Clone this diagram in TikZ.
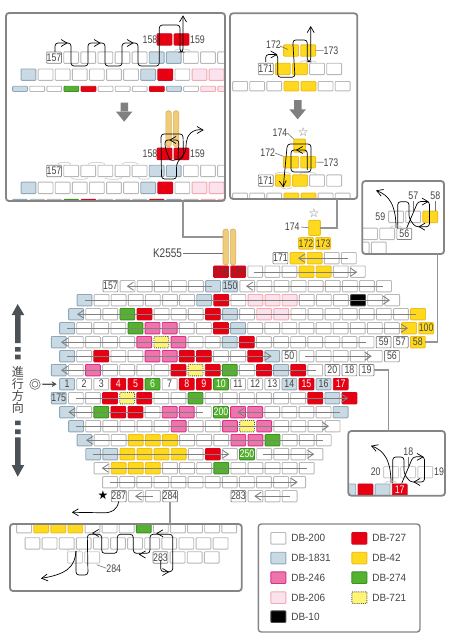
\documentclass[tikz,border=0pt]{standalone}
\usepackage{fontspec}
\setmainfont{Liberation Sans}
\newfontfamily\nar[FakeStretch=0.8]{Liberation Sans}
\newfontfamily\leg[FakeStretch=0.95]{Liberation Sans}
\newfontfamily\sym{DejaVu Sans}
\newfontfamily\cjk{Noto Sans CJK JP}
\usetikzlibrary{arrows.meta,calc}
\definecolor{cB}{HTML}{C9DAE4}\definecolor{cBd}{HTML}{8FA8B8}
\definecolor{cR}{HTML}{E60012}\definecolor{cRd}{HTML}{D00A1E}
\definecolor{cY}{HTML}{FFD91E}\definecolor{cYd}{HTML}{EDBF20}
\definecolor{cG}{HTML}{55B22F}\definecolor{cGd}{HTML}{3E8E2A}
\definecolor{cP}{HTML}{EE75AC}\definecolor{cPd}{HTML}{D8308A}
\definecolor{cL}{HTML}{FBE3EE}\definecolor{cLd}{HTML}{F4A8B0}
\definecolor{cD}{HTML}{FFF475}
\definecolor{cN}{HTML}{F0CB78}\definecolor{cNd}{HTML}{D8B060}
\definecolor{cT}{HTML}{444444}
\definecolor{cA}{HTML}{4A5257}
\tikzset{
 bead/.style={rectangle,minimum width=14.8pt,minimum height=11.4pt,inner sep=0,outer sep=0,line width=.9pt,rounded corners=.8pt},
 wb/.style={draw=black!28,fill=white},
 pw/.style={draw=black!20,fill=white},
 lb/.style={draw=black!50,fill=white,line width=.7pt},
 bl/.style={draw=cBd,fill=cB},
 rd/.style={draw=cRd,fill=cR},
 yl/.style={draw=cYd,fill=cY},
 gn/.style={draw=cGd,fill=cG},
 pk/.style={draw=cPd,fill=cP},
 lp/.style={draw=cLd,fill=cL},
 bk/.style={draw=black!70,fill=black},
 yd/.style={draw=black!65,fill=cD,densely dotted},
 halfb/.style={minimum height=5.2pt},
 thinb/.style={minimum height=9.4pt},
 tx/.style={inner sep=0,outer sep=0,font=\nar\fontsize{11}{11}\selectfont,text=cT},
 rowth/.style={draw=black!50,line width=.85pt,-{Straight Barb[length=6pt,width=8pt,line width=.85pt]}},
 thr/.style={draw=black,line width=.7pt,rounded corners=3pt},
 pale/.style={draw=black!22,line width=.6pt},
 lead/.style={draw=black!55,line width=.6pt},
 panel/.style={rectangle,inner sep=0,outer sep=0,fill=white,rounded corners=3pt},
 pborder/.style={draw=black!48,line width=1.8pt,rounded corners=3pt},
 link/.style={draw=black!42,line width=1.6pt},
 needle/.style={rectangle,inner sep=0,outer sep=0,draw=cNd,fill=cN,line width=.6pt,rounded corners=2.5pt,minimum width=5.4pt},
 blockar/.style={fill=black!50},
}
\newcommand{\beadrow}[5][]{\foreach \bt [count=\bi from 0] in {#5}{\node[bead,\bt,#1] (#2-\bi) at ({#3+\bi*17.1+7.75},{#4+6.15}) {};}}
\newcommand{\bl}[3][cT]{\node[tx,text=#1] (#2-t) at (#2) {#3};}
\newcommand{\rl}[3]{\draw[rowth] (#1,#3+6.2) -- (#2,#3+6.2);}
\newcommand{\chev}[3]{\draw[draw=black,line width=.7pt,shift={(#1,#2)},rotate=#3] (-6,-3.5) -- (0,0) -- (-6,3.5);}
\newcommand{\parc}[4]{\draw[pale] (#1,#3) .. controls (#1,#3-#4) and (#2,#3-#4) .. (#2,#3);}
\newcommand{\crossth}{%
 \draw[thr] (396,228) .. controls (396,205) and (389,195) .. (376.7,190.7);
 \chev{376.7}{190.7}{160}
 \draw[thr] (397.7,228) -- (397.7,201.7) -- (409,201.7) -- (409,218) -- (415,226.7) -- (429.5,226.7) -- (429.5,201.5) -- (418,201.5) -- (406.7,228);
 \chev{428}{201.6}{0}
 \chev{419}{226.7}{180}
 \parc{390}{402}{228}{3}
}
\begin{document}
\begin{tikzpicture}[x=1pt,y=-1pt]
\useasboundingbox (0,0) rectangle (450,642);
% ---------- main chart
\node[needle,minimum height=36pt] (nL) at (225.7,247) {};
\node[needle,minimum height=36pt] (nR) at (233,247) {};
\node[bead,yl,minimum width=11.6pt,minimum height=15pt] (m174) at (314.5,227.8) {};
\beadrow{r238}{298.3}{237.2}{yl,yl}
\beadrow{r252}{272.7}{252}{lb,yl,yl,wb,wb}
\beadrow{r266}{213.3}{265.5}{rd,rd,wb,wb,wb,yl,yl,wb,wb}
\beadrow{r280}{102.7}{280}{lb,wb,wb,wb,wb,wb,bl,bl,wb,wb,wb,wb,wb,wb,wb,wb,wb}
\beadrow{r294}{76.7}{294}{bl,wb,wb,wb,wb,wb,wb,bl,rd,wb,lp,lp,lp,wb,wb,wb,bk,wb,wb}
\beadrow{r308}{68.3}{308}{bl,wb,wb,gn,rd,wb,wb,wb,rd,bl,wb,lp,lp,wb,wb,wb,wb,wb,wb,wb,yl}
\beadrow{r322}{59.3}{322}{bl,wb,wb,wb,gn,pk,pk,wb,wb,rd,bl,wb,wb,wb,wb,wb,wb,wb,wb,wb,yl,yl}
\beadrow{r336}{51}{336}{bl,wb,wb,wb,wb,pk,yd,pk,wb,wb,bl,rd,wb,wb,wb,wb,wb,wb,wb,lb,lb,yl}
\beadrow{r350}{59.3}{350}{bl,wb,rd,wb,wb,pk,pk,rd,rd,wb,wb,rd,bl,lb,wb,wb,wb,wb,wb,lb}
\beadrow{r364}{51}{364}{bl,wb,pk,wb,wb,wb,wb,rd,yd,rd,gn,wb,rd,bl,rd,wb,lb,lb,lb}
\beadrow{r378}{59.3}{378}{bl,wb,wb,rd,rd,gn,wb,rd,rd,gn,wb,wb,wb,bl,rd,bl,rd}
\beadrow{r392}{51}{392}{bl,wb,wb,rd,yd,rd,wb,wb,gn,wb,wb,wb,wb,wb,wb,rd,bl,rd}
\beadrow{r406}{59.3}{406}{bl,wb,gn,rd,rd,wb,pk,pk,wb,gn,pk,pk,wb,wb,wb,wb,bl}
\beadrow{r420}{68.3}{420}{bl,wb,wb,wb,wb,wb,pk,wb,wb,pk,yd,pk,wb,wb,wb,wb}
\beadrow{r434}{76.7}{434}{bl,wb,wb,yl,yl,yl,wb,wb,wb,pk,pk,gn,wb,wb,wb}
\beadrow{r448}{85.4}{448}{bl,bl,yl,yl,yl,yl,wb,rd,wb,gn,wb,wb,wb,wb}
\beadrow{r462}{93.8}{462}{wb,yl,yl,yl,wb,wb,wb,gn,wb,wb,wb,wb,wb}
\beadrow{r476}{102.3}{476}{wb,wb,wb,wb,wb,wb,wb,wb,wb,wb,wb,wb}
\beadrow{r490}{111}{490}{lb,wb,wb,lb}
\beadrow{s490}{230.6}{490}{lb,wb,wb,wb}
% row threads
\rl{348.3}{298}{252}
\rl{254.3}{357.3}{266}
\rl{212}{126.7}{280}\rl{382.7}{246}{280}
\rl{84.7}{390}{294}
\rl{416}{77}{308}
\rl{66.7}{408}{322}
\rl{365.7}{61}{336}
\rl{66.7}{271.7}{350}\rl{305}{371.7}{350}
\rl{315.7}{61}{364}
\rl{76}{348.3}{392}
\rl{203}{68.3}{406}\rl{340}{237.3}{406}
\rl{76}{329}{420}
\rl{323}{86}{434}
\rl{92.7}{229.3}{448}\rl{263.3}{314.3}{448}
\rl{306.7}{101.7}{462}
\rl{110}{297.7}{476}
\rl{153}{135}{490}\rl{290}{254.3}{490}
% bead texts
\bl{r238-0}{172}\bl{r238-1}{173}
\bl{r252-0}{171}
\bl{r266-0}{158}\bl{r266-1}{159}
\bl{r280-0}{157}\bl{r280-7}{150}
\bl{r322-21}{100}
\bl{r336-19}{59}\bl{r336-20}{57}\bl{r336-21}{58}
\bl{r350-13}{50}\bl{r350-19}{56}
\bl{r364-16}{20}\bl{r364-17}{18}\bl{r364-18}{19}
\bl{r378-0}{1}\bl{r378-1}{2}\bl{r378-2}{3}
\bl[white]{r378-3}{4}\bl[white]{r378-4}{5}\bl[white]{r378-5}{6}
\bl{r378-6}{7}\bl[white]{r378-7}{8}\bl[white]{r378-8}{9}\bl[white]{r378-9}{10}
\bl{r378-10}{11}\bl{r378-11}{12}\bl{r378-12}{13}\bl{r378-13}{14}
\bl[white]{r378-14}{15}\bl{r378-15}{16}\bl[white]{r378-16}{17}
\bl{r392-0}{175}
\bl[white]{r406-9}{200}
\bl[white]{r448-9}{250}
\bl{r490-0}{287}\bl{r490-3}{284}\bl{s490-0}{283}
% labels around the chart
\node[tx] (lab174) at (292.3,227) {174};
\draw[lead] (lab174.east) ++(1.5,0) -- (m174.west);
\node[tx,text=black!55,font=\sym\fontsize{12}{12}\selectfont] (st1) at (314,213) {☆};
\node[tx,font=\nar\fontsize{12.5}{12.5}\selectfont] (k2555) at (167.5,253.5) {K2555};
\draw[lead] (k2555.east) ++(1.5,0) -- (nL.west |- k2555.east);
\node[tx,text=black,font=\sym\fontsize{12}{12}\selectfont] (st2) at (103,495.5) {★};
\draw[thr] (r490-0.south) ++(0,-.5) .. controls (117,510) and (112,513) .. (100,512.7) -- (72.5,512.3);
\chev{72.5}{512.3}{180}
% direction arrows
\fill[cA] (17.7,304) -- (24.3,315) -- (20.7,315) -- (20.7,343) -- (15,343) -- (15,315) -- (11.7,315) -- cycle;
\fill[cA] (15,347) rectangle (20.7,351.7) (15,354.7) rectangle (20.7,359.3);
\fill[cA] (15,420.7) rectangle (20.7,425) (15,429.3) rectangle (20.7,434);
\fill[cA] (15,437.3) rectangle (20.7,465) (24.3,465) -- (17.7,476.7) -- (11.7,465) -- cycle;
\node[inner sep=0,outer sep=0,align=center,text=cT,font=\cjk\fontsize{12}{12}\selectfont] (jp) at (18,390) {進\\行\\方\\向};
\node[circle,draw=black!60,line width=.6pt,minimum size=10.5pt,inner sep=0,outer sep=0] (tgt) at (35,384.2) {};
\node[circle,draw=black!60,line width=.6pt,minimum size=6pt,inner sep=0,outer sep=0] (tgt2) at (tgt) {};
\draw[draw=cA,line width=1.3pt,shorten <=2pt,shorten >=3pt,-{Stealth[length=5pt,width=6pt]}] (tgt.east) -- (r378-0.west);
% ---------- panel A
\node[panel,minimum width=219pt,minimum height=188pt] (pA) at (115.5,107) {};
\begin{scope}
\clip[rounded corners=3pt] (pA.south west) rectangle (pA.north east);
\beadrow{a1}{156.7}{33.3}{rd,rd}
\beadrow{a2}{46.3}{51.5}{lb,wb,wb,wb,wb,wb,bl,bl,wb,wb,wb}
\beadrow{a3}{20.7}{68.5}{bl,wb,wb,wb,wb,wb,wb,bl,rd,wb,lp,lp}
\beadrow[halfb]{a4}{12.3}{82.7}{bl,wb,wb,gn,rd,wb,wb,wb,rd,bl,wb,lp,lp}
\node[needle,minimum height=36pt] (a5) at (168.6,128.7) {};
\node[needle,minimum height=36pt] (a6) at (176.1,128.7) {};
\beadrow{b1}{156.7}{147.7}{rd,rd}
\beadrow{b2}{46.3}{164.8}{lb,wb,wb,wb,wb,wb,bl,bl,wb,wb,wb}
\beadrow{b3}{20.7}{181.7}{bl,wb,wb,wb,wb,wb,wb,bl,rd,wb,lp,lp}
\beadrow[halfb]{b4}{12.3}{195.8}{bl,wb,wb,gn,rd,wb,wb,wb,rd,bl,wb,lp,lp}
\end{scope}
\bl{a2-0}{157}\bl{b2-0}{157}
\node[tx] (a7) at (150,39.6) {158};
\node[tx] (a8) at (197.5,39.6) {159};
\node[tx] (b7) at (150,154) {158};
\node[tx] (b8) at (197.5,154) {159};
\parc{174.5}{190}{51.3}{3}
\parc{58}{71}{164.5}{3}\parc{88}{105}{164.5}{3}\parc{122}{138}{164.5}{3}
\parc{71}{88}{177.5}{-2.5}\parc{105}{122}{177.5}{-2.5}\parc{138}{150}{177.5}{-2.5}
\draw[thr] (55,52) -- (55,43) -- (71,43) -- (71,66) -- (88,66) -- (88,43) -- (105,43) -- (105,66) -- (122,66) -- (122,43) -- (138,43) -- (138,66) -- (159.3,66) -- (159.3,25) -- (180,25) -- (180,52) -- (183,52) -- (183,16.5);
\chev{67}{43}{0}\chev{100}{43}{0}\chev{133}{43}{0}\chev{183}{16}{90}
\draw[thr] (203,130) .. controls (192,128) and (187,136) .. (186,145) .. controls (186,155) and (177,160) .. (176.5,168) -- (176.5,179) -- (161.5,179) -- (161,134) -- (183,134) -- (183.5,158) -- (170,161) -- (165,147) -- (165,140) -- (179,140) -- (178,158);
\chev{203}{130}{0}\chev{170}{140}{180}
\fill[blockar] (120.7,102.7) rectangle (128,112) (116,111.7) -- (132.3,111.7) -- (124.2,121.7) -- cycle;
% ---------- panel B
\node[panel,minimum width=127.3pt,minimum height=185.7pt] (pB) at (293.65,106.15) {};
\begin{scope}
\clip[rounded corners=3pt] (pB.south west) rectangle (pB.north east);
\beadrow{c1}{283.3}{44.4}{yl,yl}
\beadrow{c2}{258}{62.8}{lb,yl,yl,wb,wb}
\beadrow[thinb]{c3}{232.3}{80}{wb,wb,wb,yl,yl,wb,wb}
\node[bead,yl,minimum width=11.6pt,minimum height=13pt] (d0) at (299.7,145.6) {};
\beadrow{d1}{283.3}{156}{yl,yl}
\beadrow{d2}{258}{174.4}{lb,yl,yl,wb,wb}
\beadrow[thinb]{d3}{232.3}{191.7}{wb,wb,wb,yl,yl,wb,wb}
\end{scope}
\bl{c2-0}{171}\bl{d2-0}{171}
\node[tx] (c4) at (273.5,45) {172};
\draw[lead] (280,46) -- (288,49.5);
\node[tx] (c5) at (331,50.7) {173};
\draw[lead] (c1-1.east) -- (c5.west);
\node[tx] (d4) at (280,132.7) {174};
\draw[lead] (287.3,133) -- (d0.north west);
\node[tx,text=black!55,font=\sym\fontsize{12}{12}\selectfont] (d5) at (303.3,132) {☆};
\node[tx] (d6) at (267.7,152.7) {172};
\draw[lead] (275,153) -- (d1-0.north west);
\node[tx] (d7) at (331,162.3) {173};
\draw[lead] (d1-1.east) -- (d7.west);
\parc{300}{316}{62.5}{2.5}\parc{300}{316}{174.2}{2.5}\parc{275}{291}{174.2}{2.5}\parc{281}{292}{187}{-2.5}
\draw[thr] (265.7,62) -- (265.7,54.5) -- (277.7,54.5) -- (277.7,77.3) -- (295,77.3) -- (292.7,40) -- (307.3,40) -- (307.3,61.7) -- (310.7,61.7) -- (310.7,27);
\chev{276.7}{54.5}{0}\chev{310.7}{26.7}{90}
\draw[thr] (283.3,186.7) -- (287.3,144) -- (311,144) -- (311,172) -- (291,172) -- (291,150) -- (307.3,150) -- (307.3,170);
\chev{283.3}{186.7}{-85}\chev{296.7}{150}{180}
\fill[blockar] (294,100) rectangle (301.7,109.5) (289.3,109.3) -- (306,109.3) -- (297.7,119.3) -- cycle;
% ---------- panel C
\node[panel,minimum width=81.7pt,minimum height=73pt] (pC) at (403.15,217.5) {};
\begin{scope}
\clip[rounded corners=3pt] (pC.south west) rectangle (pC.north east);
\beadrow{e1}{388.3}{210.7}{wb,wb,yl}
\beadrow{e2}{362.3}{227.7}{wb,wb,lb}
\beadrow{e3}{353.9}{241.7}{wb,wb}
\end{scope}
\bl{e2-2}{56}
\node[tx] (e4) at (380.3,217) {59};
\node[tx] (e5) at (413.3,196) {57};
\node[tx] (e6) at (435.3,196) {58};
\draw[lead] (e5.south) ++(0,1) -- (e5.south |- e1-1.north);
\draw[lead] (e6.south) ++(0,1) -- (e6.south |- e1-2.north);
\crossth
% ---------- panel D
\node[panel,minimum width=96.7pt,minimum height=64.7pt] (pD) at (396.65,463.35) {};
\begin{scope}
\clip[rounded corners=3pt] (pD.south west) rectangle (pD.north east);
\beadrow{f1}{383.3}{466}{pw,pw,pw}
\beadrow{f2}{340.6}{483.5}{bl,rd,bl,rd}
\end{scope}
\bl[white]{f2-3}{17}
\node[tx] (f4) at (375.7,472) {20};
\node[tx] (f5) at (408.3,451.7) {18};
\node[tx] (f6) at (439,472) {19};
\draw[lead] (f5.south) ++(0,1) -- (f5.south |- f1-1.north);
\begin{scope}[shift={(-5,255.3)}]
\crossth
\end{scope}
% ---------- panel E
\node[panel,minimum width=231.7pt,minimum height=67pt] (pE) at (125.85,557.5) {};
\begin{scope}
\clip[rounded corners=3pt] (pE.south west) rectangle (pE.north east);
\beadrow{g1}{16.3}{521}{wb,yl,yl,yl,wb,wb,wb,gn,wb,wb,wb,wb,wb}
\beadrow{g2}{24.7}{537.3}{wb,wb,wb,wb,wb,wb,wb,wb,wb,wb,wb,wb}
\beadrow{g3}{67.3}{551.3}{pw,pw}
\beadrow{g4}{152.7}{551.3}{lb,wb,wb,wb}
\end{scope}
\bl{g4-0}{283}
\node[tx] (g5) at (113.7,568.3) {284};
\draw[lead] (96.7,564.7) -- (g5.west);
\parc{67}{80}{551.2}{3}
\draw[thr] (76,551) .. controls (75,566) and (68,574) .. (41.7,578.3);
\chev{41.7}{578.3}{188}
\draw[thr] (76,551) -- (76,575) -- (88,575) -- (87.3,534.3) -- (101.7,534.3) -- (101.7,553.3) -- (117.3,553.3) -- (117.3,534.3) -- (133.3,534.3) -- (133.3,553.3) -- (150,553.3) -- (150,534.3) -- (172.7,534.3) -- (172.7,571.7) -- (160.7,571.7) -- (160.7,560);
\chev{92.7}{533}{180}\chev{139.5}{554.5}{180}\chev{157}{533.3}{180}\chev{168.5}{572}{0}
% ---------- panel borders and links
\foreach \pn in {pA,pB,pC,pD,pE}{\draw[pborder] (\pn.south west) rectangle (\pn.north east);}
\draw[link] ([xshift=176.7pt]pA.south west) |- ([yshift=10pt]nL.west);
\draw[link] ([xshift=106.7pt]pB.south west) |- (m174.east);
\draw[link] ([xshift=75pt]pC.south west) |- (r336-21.east);
\draw[link] ([xshift=40pt]pD.north west) |- (r364-18.east);
\draw[link] (r490-3.south) -- (r490-3.south |- pE.north);
% ---------- legend
\node[panel,draw=black!48,line width=1.4pt,minimum width=161.7pt,minimum height=108pt] (lg) at (339.15,578) {};
\newcommand{\lgitem}[5]{%
 \node[bead,#3,minimum width=15pt,minimum height=11.6pt] (#1) at (#4+7.7,#5+6) {};
 \node[anchor=west,inner sep=0,outer sep=0,text=cT,font=\leg\fontsize{10.5}{10.5}\selectfont] (#1t) at (#4+20.6,#5+6) {#2};}
\lgitem{k1}{DB-200}{wb}{270.7}{532.3}
\lgitem{k2}{DB-1831}{bl}{270.7}{552}
\lgitem{k3}{DB-246}{pk}{270.7}{571.7}
\lgitem{k4}{DB-206}{lp}{270.7}{591.7}
\lgitem{k5}{DB-10}{bk}{270.7}{610.7}
\lgitem{k6}{DB-727}{rd}{351.7}{532.3}
\lgitem{k7}{DB-42}{yl}{351.7}{552}
\lgitem{k8}{DB-274}{gn}{351.7}{571.7}
\lgitem{k9}{DB-721}{yd}{351.7}{591.7}
\end{tikzpicture}
\end{document}
